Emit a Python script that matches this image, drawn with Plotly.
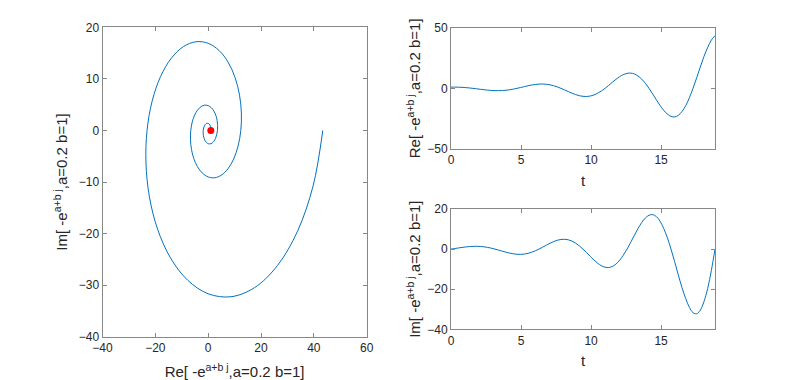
import plotly.graph_objects as go

# time samples (t from 0 to 6*pi)
t = [0.00, 0.26, 0.52, 0.79, 1.05, 1.31, 1.57, 1.83, 2.09, 2.36, 2.62, 2.88,
     3.14, 3.40, 3.67, 3.93, 4.19, 4.45, 4.71, 4.97, 5.24, 5.50, 5.76, 6.02,
     6.28, 6.54, 6.81, 7.07, 7.33, 7.59, 7.85, 8.12, 8.38, 8.64, 8.90, 9.16,
     9.42, 9.69, 9.95, 10.21, 10.47, 10.73, 11.00, 11.26, 11.52, 11.78, 12.04, 12.30,
     12.57, 12.83, 13.09, 13.35, 13.61, 13.88, 14.14, 14.40, 14.66, 14.92, 15.18, 15.45,
     15.71, 15.97, 16.23, 16.49, 16.76, 17.02, 17.28, 17.54, 17.80, 18.06, 18.33, 18.59,
     18.85]

re_vals = [1.00, 1.02, 0.96, 0.83, 0.62, 0.34, 0.00, -0.37, -0.76, -1.13, -1.46, -1.72,
           -1.87, -1.91, -1.80, -1.55, -1.16, -0.63, 0.00, 0.70, 1.42, 2.12, 2.74, 3.22,
           3.51, 3.58, 3.38, 2.91, 2.17, 1.18, 0.00, -1.31, -2.67, -3.98, -5.14, -6.04,
           -6.59, -6.70, -6.33, -5.45, -4.06, -2.21, 0.00, 2.46, 5.01, 7.46, 9.63, 11.32,
           12.35, 12.57, 11.87, 10.21, 7.61, 4.15, 0.00, -4.61, -9.38, -13.98, -18.05, -21.21,
           -23.14, -23.55, -22.25, -19.15, -14.27, -7.78, 0.00, 8.64, 17.59, 26.21, 33.83, 39.76,
           43.38]

im_vals = [0.00, 0.27, 0.56, 0.83, 1.07, 1.26, 1.37, 1.39, 1.32, 1.13, 0.84, 0.46,
           0.00, -0.51, -1.04, -1.55, -2.00, -2.35, -2.57, -2.61, -2.47, -2.12, -1.58, -0.86,
           0.00, 0.96, 1.95, 2.91, 3.75, 4.41, 4.81, 4.90, 4.63, 3.98, 2.97, 1.62,
           0.00, -1.80, -3.66, -5.45, -7.03, -8.27, -9.02, -9.18, -8.67, -7.46, -5.56, -3.03,
           0.00, 3.37, 6.85, 10.21, 13.18, 15.49, 16.90, 17.20, 16.25, 13.98, 10.42, 5.68,
           0.00, -6.31, -12.85, -19.15, -24.71, -29.04, -31.68, -32.25, -30.47, -26.21, -19.53, -10.65,
           0.00]

start_point = [1.0, 0.0]

xtick_left = [-40, -20, 0, 20, 40, 60]
ytick_left = [-40, -30, -20, -10, 0, 10, 20]
xtick_t = [0, 5, 10, 15]
ytick_re = [-50, 0, 50]
ytick_im = [-40, -20, 0, 20]

xlabel_left = "Re[ -e<sup>a+b j</sup>,a=0.2 b=1]"
ylabel_left = "Im[ -e<sup>a+b j</sup>,a=0.2 b=1]"
ylabel_re = "Re[ -e<sup>a+b j</sup>,a=0.2 b=1]"
xlabel_t = "t"

BLUE = "#0072BD"
AXC = "#878787"
TXT = "#262626"
FONT = "Liberation Sans, Arial, sans-serif"

fig = go.Figure()
fig.add_trace(go.Scatter(x=re_vals, y=im_vals, mode="lines",
                         line=dict(color=BLUE, width=1, shape="spline"),
                         xaxis="x", yaxis="y", showlegend=False))
fig.add_trace(go.Scatter(x=[start_point[0]], y=[start_point[1]], mode="markers",
                         marker=dict(color="red", size=7),
                         xaxis="x", yaxis="y", showlegend=False))
fig.add_trace(go.Scatter(x=t, y=re_vals, mode="lines",
                         line=dict(color=BLUE, width=1, shape="spline"),
                         xaxis="x2", yaxis="y2", showlegend=False))
fig.add_trace(go.Scatter(x=t, y=im_vals, mode="lines",
                         line=dict(color=BLUE, width=1, shape="spline"),
                         xaxis="x3", yaxis="y3", showlegend=False))

def ax(domain, rng, tickvals, title, anchor, standoff):
    return dict(domain=domain, range=rng, tickvals=tickvals, anchor=anchor,
                automargin=False,
                showline=True, linecolor=AXC, linewidth=1, mirror="ticks",
                ticks="inside", ticklen=4, tickcolor=AXC, tickwidth=1,
                showgrid=False, zeroline=False,
                tickfont=dict(family=FONT, size=12, color=TXT),
                title=dict(text=title, font=dict(family=FONT, size=15, color=TXT),
                           standoff=standoff))

# page body adds an 8px offset; figure coordinates = screen - 8
OFF = 8
W, H = 790 - OFF, 380 - OFF

def xd(a, b):
    return [(a - OFF) / W, (b - OFF) / W]

def yd(top, bottom):
    return [1 - (bottom - OFF) / H, 1 - (top - OFF) / H]

L_x = xd(102.5, 366.7)
L_y = yd(27.3, 336.7)
R_x = xd(451, 715)
R1_y = yd(27.7, 149)
R2_y = yd(209, 329.3)

t_end = t[-1]

fig.update_layout(
    width=W, height=H,
    margin=dict(l=0, r=0, t=0, b=0, autoexpand=False),
    paper_bgcolor="white", plot_bgcolor="white",
    font=dict(family=FONT, color=TXT),
    xaxis=ax(L_x, [-40, 60], xtick_left, xlabel_left, "y", 13),
    yaxis=ax(L_y, [-40, 20], ytick_left, ylabel_left, "x", 7),
    xaxis2=ax(R_x, [0, t_end], xtick_t, xlabel_t, "y2", 9),
    yaxis2=ax(R1_y, [-50, 50], ytick_re, ylabel_re, "x2", 2),
    xaxis3=ax(R_x, [0, t_end], xtick_t, xlabel_t, "y3", 8),
    yaxis3=ax(R2_y, [-40, 20], ytick_im, ylabel_left, "x3", 2),
)

fig.write_html("out.html")
